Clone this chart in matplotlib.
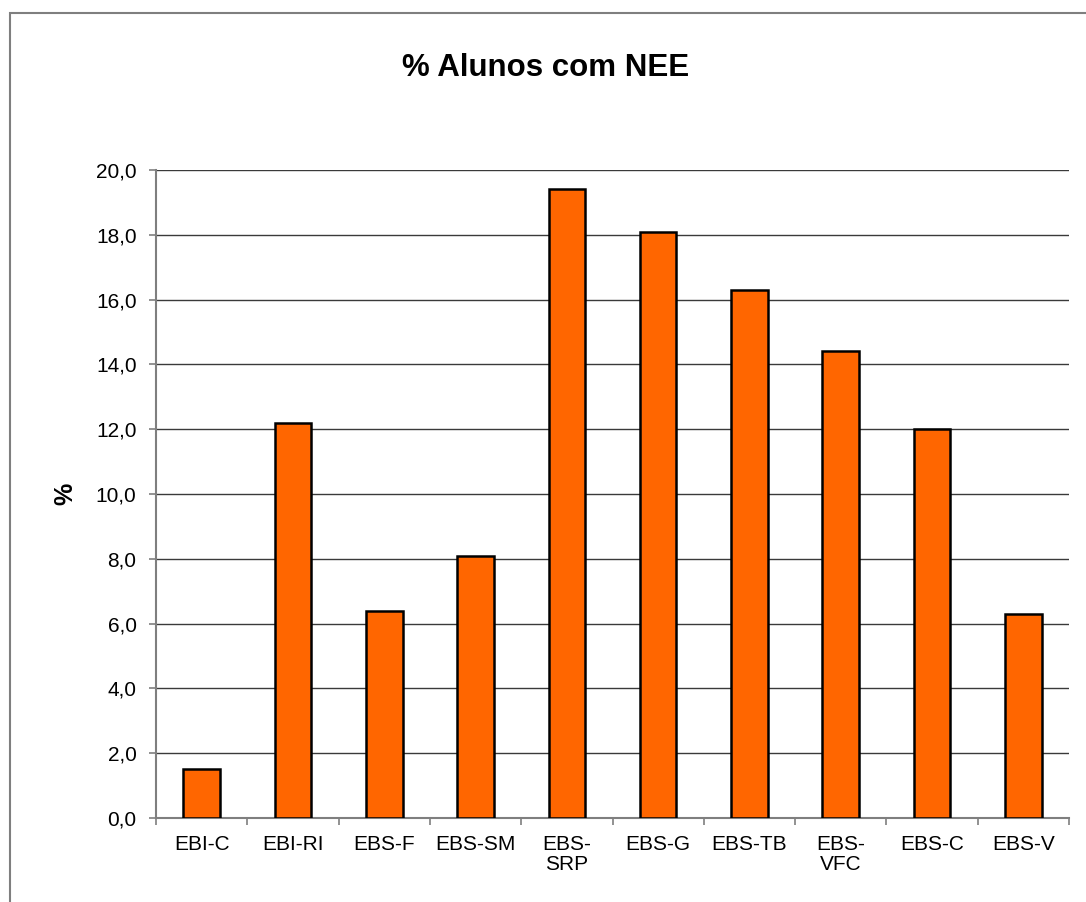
import numpy as np
import matplotlib.pyplot as plt
from matplotlib.patches import Rectangle
from matplotlib.ticker import FixedLocator, FuncFormatter

plt.rcParams['font.family'] = ['Liberation Sans', 'DejaVu Sans']

# % de alunos com NEE por escola
escolas = ['EBI-C', 'EBI-RI', 'EBS-F', 'EBS-SM', 'EBS-\nSRP', 'EBS-G',
           'EBS-TB', 'EBS-\nVFC', 'EBS-C', 'EBS-V']
percent = [1.5, 12.2, 6.4, 8.1, 19.4, 18.1, 16.3, 14.4, 12.0, 6.3]
yticks = np.arange(0, 21, 2)

W, H = 1086, 902
fig = plt.figure(figsize=(W / 100, H / 100), dpi=100)
fig.patch.set_facecolor('white')

# moldura do gráfico (cortada à direita e em baixo)
fig.patches.append(Rectangle((10 / W, -0.05), 1.1, 1 - 13 / H + 0.05,
                             transform=fig.transFigure, fill=False,
                             edgecolor='#7f7f7f', linewidth=1.5))

ax = fig.add_axes([156 / W, 1 - 818 / H, (1069 - 156) / W, (818 - 170) / H])
x = np.arange(len(escolas))
ax.bar(x, percent, width=0.4, color='#ff6600', edgecolor='black',
       linewidth=1.8, zorder=3)

ax.set_xlim(-0.5, len(escolas) - 0.5)
ax.set_ylim(0, 20)
ax.set_yticks(yticks)
ax.yaxis.set_major_formatter(FuncFormatter(lambda v, p: f'{v:.1f}'.replace('.', ',')))
ax.yaxis.grid(True, color='#3a3a3a', linewidth=1.0, zorder=0)

ax.set_xticks(x)
ax.set_xticklabels(escolas, fontsize=15, linespacing=1.1)
ax.xaxis.set_minor_locator(FixedLocator(np.arange(-0.5, len(escolas), 1)))
ax.tick_params(axis='x', which='major', length=0, pad=12)
ax.tick_params(axis='x', which='minor', length=5, width=1.2, color='#7f7f7f')
ax.tick_params(axis='y', length=5, width=1.2, color='#7f7f7f', labelsize=15, pad=9)

for s in ['top', 'right']:
    ax.spines[s].set_visible(False)
for s in ['left', 'bottom']:
    ax.spines[s].set_color('#7f7f7f')
    ax.spines[s].set_linewidth(1.5)

ax.set_ylabel('%', fontsize=18, fontweight='bold', labelpad=13)
fig.text(546 / W, 1 - 68 / H, '% Alunos com NEE', ha='center', va='center',
         fontsize=22.5, fontweight='bold')

fig.savefig('out.png', dpi=100, facecolor='white')
